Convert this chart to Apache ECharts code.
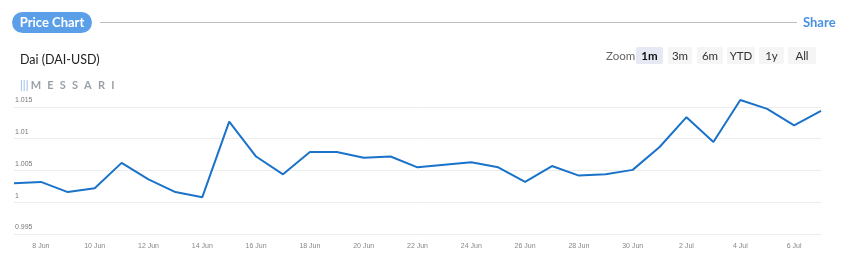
<!DOCTYPE html>
<html>
<head>
<meta charset="utf-8">
<script src="https://cdn.jsdelivr.net/npm/echarts@6/dist/echarts.min.js"></script>
<style>
  html, body { margin: 0; padding: 0; background: #fff; font-family: Lato, "Open Sans", sans-serif; }
  .wrap { position: relative; width: 848px; height: 260px; overflow: hidden; }
  #chart { position: absolute; left: 0; top: 0; width: 848px; height: 260px; }
  .pill { position: absolute; left: 12px; top: 12px; width: 80px; height: 21px; border-radius: 11px;
    background: #5b9fe9; color: #fff; font-weight: bold; font-size: 13px; line-height: 21px; text-align: center; }
  .rule { position: absolute; left: 100px; top: 22px; width: 697px; height: 1px; background: #bdbdbd; }
  .share { position: absolute; left: 803px; top: 14px; color: #4a90e2; font-weight: bold; font-size: 13px; }
  .title { position: absolute; left: 20px; top: 52px; color: #222; font-size: 12.5px; }
  .logo { position: absolute; left: 20px; top: 78px; color: #9aa0a6; font-size: 11px; letter-spacing: 6.2px; font-weight: bold; }
  .logo i { color: #a9c8ea; font-style: normal; letter-spacing: 0; margin-right: 2px; }
  .zoom { position: absolute; top: 47px; font-size: 11.5px; color: #333; }
  .zoom span { position: absolute; top: 0; height: 17px; line-height: 17px; text-align: center; background: #f5f5f5; border-radius: 2px; }
  .zoom .lab { background: none; color: #666; }
  .zoom .on { background: #e6e8f3; font-weight: bold; color: #111; }
</style>
</head>
<body>
<div class="wrap">
  <div id="chart"></div>
  <div class="pill">Price Chart</div>
  <div class="rule"></div>
  <div class="share">Share</div>
  <div class="title">Dai (DAI-USD)</div>
  <div class="logo"><i>|||</i>MESSARI</div>
  <div class="zoom">
    <span class="lab" style="left:606px;width:28px">Zoom</span>
    <span class="on" style="left:636px;width:27px">1m</span>
    <span style="left:668px;width:24px">3m</span>
    <span style="left:697px;width:26px">6m</span>
    <span style="left:727px;width:28px">YTD</span>
    <span style="left:759px;width:25px">1y</span>
    <span style="left:788px;width:28px">All</span>
  </div>
</div>
<script>
// daily dates, 7 Jun – 7 Jul
const dates = [
  '7 Jun', '8 Jun', '9 Jun', '10 Jun', '11 Jun', '12 Jun', '13 Jun', '14 Jun', '15 Jun', '16 Jun',
  '17 Jun', '18 Jun', '19 Jun', '20 Jun', '21 Jun', '22 Jun', '23 Jun', '24 Jun', '25 Jun', '26 Jun',
  '27 Jun', '28 Jun', '29 Jun', '30 Jun', '1 Jul', '2 Jul', '3 Jul', '4 Jul', '5 Jul', '6 Jul', '7 Jul'
]
const prices = [
  1.0030, 1.0032, 1.0016, 1.0022, 1.0062, 1.0036, 1.0016, 1.0008, 1.0127, 1.0072,
  1.0044, 1.0079, 1.0079, 1.0070, 1.0072, 1.0055, 1.0059, 1.0063, 1.0055, 1.0032,
  1.0057, 1.0042, 1.0044, 1.0051, 1.0087, 1.0134, 1.0095, 1.0161, 1.0147, 1.0121, 1.0144
]
const yTicks = [0.995, 1, 1.005, 1.01, 1.015]

const chart = echarts.init(document.getElementById('chart'))
chart.setOption({
  animation: false,
  grid: { left: 14, right: 27, top: 107, bottom: 26 },
  xAxis: {
    type: 'category',
    data: dates,
    boundaryGap: false,
    axisLine: { show: false },
    axisTick: { show: false },
    axisLabel: {
      // every other day, starting from 8 Jun
      interval: i => i % 2 === 1,
      color: '#888',
      fontSize: 7,
      margin: 9
    }
  },
  yAxis: {
    type: 'value',
    min: yTicks[0],
    max: yTicks[yTicks.length - 1],
    interval: 0.005,
    axisLine: { show: false },
    axisTick: { show: false },
    axisLabel: {
      inside: true,
      align: 'left',
      verticalAlign: 'bottom',
      color: '#777',
      fontSize: 7,
      margin: 1,
      padding: [0, 0, 3, 0],
      formatter: v => String(Math.round(v * 1000) / 1000)
    },
    splitLine: { lineStyle: { color: '#ececec' } }
  },
  series: [{
    type: 'line',
    data: prices,
    clip: false,
    symbol: 'none',
    lineStyle: { color: '#1a73c9', width: 2 }
  }]
})
</script>
</body>
</html>
